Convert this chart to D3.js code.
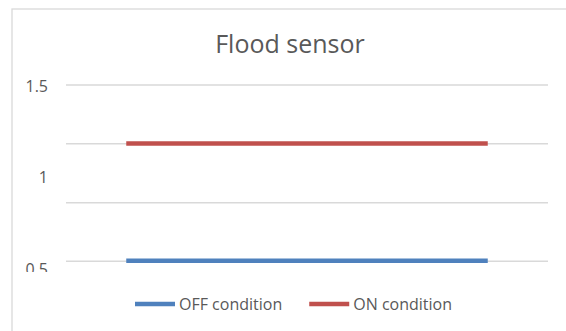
<!DOCTYPE html>
<html>
<head>
<meta charset="utf-8">
<script src="https://cdn.jsdelivr.net/npm/d3@7"></script>
<style>
  body { margin: 0; background: #fff; }
  text { font-family: "Open Sans", sans-serif; fill: #595959; }
</style>
</head>
<body>
<svg id="chart"></svg>
<script>
// data
const categories = ["1", "2", "3", "4"];
const offValues = [0.54, 0.54, 0.54, 0.54];
const onValues = [1.18, 1.18, 1.18, 1.18];
const tickLabels = [1.5, 1, 0.5];
const gridValues = [1.5, 1.179, 0.857, 0.537];
const seriesNames = ["OFF condition", "ON condition"];
const seriesColors = ["#4f81bd", "#c0504d"];

const width = 566;
const height = 331;

const svg = d3.select("#chart").attr("width", width).attr("height", height);

// chart frame (only top and left edges show in the crop)
svg.append("rect")
  .attr("x", 12).attr("y", 9)
  .attr("width", 600).attr("height", 400)
  .attr("fill", "#fff")
  .attr("stroke", "#d9d9d9")
  .attr("stroke-width", 1.3);

// title
svg.append("text")
  .attr("x", 290).attr("y", 53)
  .attr("text-anchor", "middle")
  .attr("font-size", 25)
  .text("Flood sensor");

const plotLeft = 66;
const plotRight = 548;

const x = d3.scaleBand()
  .domain(categories)
  .range([plotLeft, plotRight]);

const y = d3.scaleLinear()
  .domain([0.5, 1.5])
  .range([268, 85]);

// gridlines
svg.append("g")
  .selectAll("line")
  .data(gridValues)
  .join("line")
  .attr("x1", plotLeft).attr("x2", plotRight)
  .attr("y1", (d) => y(d)).attr("y2", (d) => y(d))
  .attr("stroke", "#d9d9d9")
  .attr("stroke-width", 1.5);

// y labels, bottom one is cut off like in the picture
svg.append("clipPath").attr("id", "labelClip")
  .append("rect").attr("x", 0).attr("y", 0).attr("width", 66).attr("height", 272);

svg.append("g")
  .attr("clip-path", "url(#labelClip)")
  .selectAll("text")
  .data(tickLabels)
  .join("text")
  .attr("x", 48)
  .attr("y", (d) => y(d) + 6.5)
  .attr("text-anchor", "end")
  .attr("font-size", 16)
  .text((d) => d);

// series lines
const line = d3.line()
  .x((d, i) => x(categories[i]) + x.bandwidth() / 2)
  .y((d) => y(d));

[offValues, onValues].forEach((vals, i) => {
  svg.append("path")
    .datum(vals)
    .attr("d", line)
    .attr("fill", "none")
    .attr("stroke", seriesColors[i])
    .attr("stroke-width", 4.5);
});

// legend
const legend = svg.append("g");
let lx = 135;
seriesNames.forEach((name, i) => {
  legend.append("line")
    .attr("x1", lx).attr("x2", lx + 40)
    .attr("y1", 304).attr("y2", 304)
    .attr("stroke", seriesColors[i])
    .attr("stroke-width", 4.5);
  const t = legend.append("text")
    .attr("x", lx + 44)
    .attr("y", 309.5)
    .attr("font-size", 16)
    .text(name);
  lx = lx + 44 + t.node().getComputedTextLength() + 27;
});
</script>
</body>
</html>
